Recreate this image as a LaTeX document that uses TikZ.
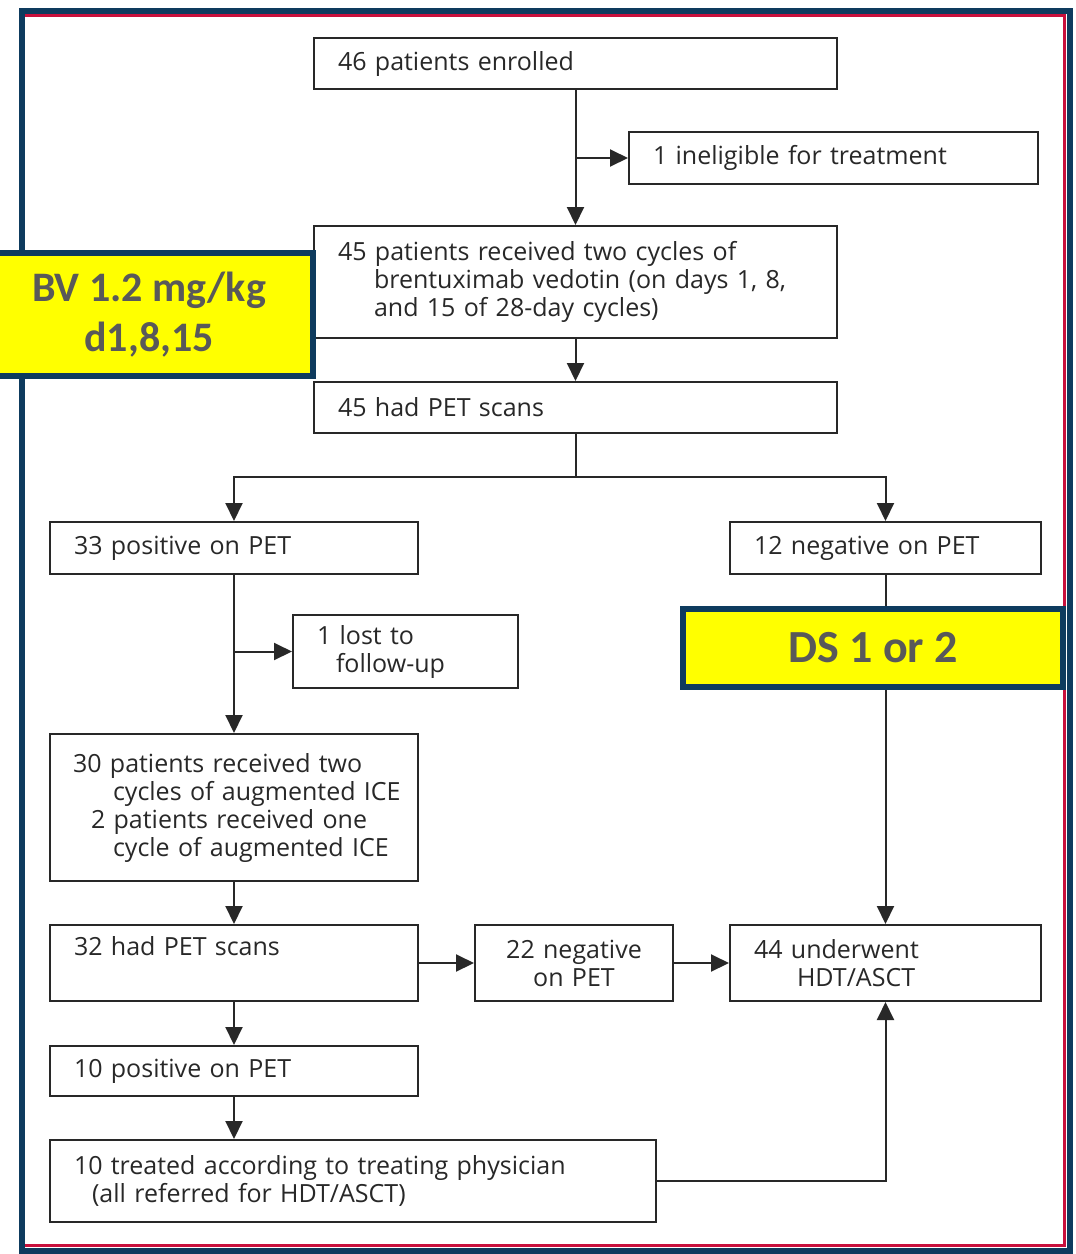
\documentclass[tikz,border=0pt]{standalone}
\usepackage{fontspec}
\newfontfamily\flowfont{Open Sans}
\newfontfamily\labelfont{Carlito}
\usetikzlibrary{arrows.meta, positioning, calc}
\definecolor{framenavy}{RGB}{14,59,94}
\definecolor{framered}{RGB}{200,16,60}
\definecolor{boxgray}{RGB}{40,40,40}
\definecolor{taggray}{RGB}{89,89,89}
\definecolor{tagyellow}{RGB}{255,255,0}
\tikzset{
    flowbox/.style={rectangle, draw=boxgray, line width=2pt, fill=white,
                    anchor=north west, align=left, inner xsep=24pt, inner ysep=0pt,
                    text=boxgray, font=\flowfont\fontsize{25}{28}\selectfont},
    arrow/.style={-{Triangle[length=18pt,width=17pt]}, line width=2pt, color=boxgray},
    link/.style={line width=2pt, color=boxgray},
    tag/.style={rectangle, draw=framenavy, line width=6pt, fill=tagyellow,
                anchor=north west, align=center, inner sep=0pt, text=taggray}
}
\begin{document}
\begin{tikzpicture}[x=1pt, y=-1pt]
    \useasboundingbox (0,0) rectangle (1076,1254);
    % frame
    \draw[framered, line width=3pt] (22,15.5) rectangle (1064.5,1245.5);
    \draw[framenavy, line width=6pt] (22,11) rectangle (1069.5,1250.5);

    % boxes
    \node[flowbox, text width=475pt, minimum height=51pt] (enrolled) at (313,37) {46 patients enrolled};
    \node[flowbox, text width=361pt, minimum height=52pt] (ineligible) at (628,131) {1 ineligible for treatment};
    \node[flowbox, text width=475pt, minimum height=112pt] (received) at (313,225) {45 patients received two cycles of\\\hspace*{36pt}brentuximab vedotin (on days 1, 8,\\\hspace*{36pt}and 15 of 28-day cycles)};
    \node[flowbox, text width=475pt, minimum height=51pt] (petscans) at (313,381) {45 had PET scans};
    \node[flowbox, text width=320pt, minimum height=52pt] (positive) at (49,521) {33 positive on PET};
    \node[flowbox, text width=263pt, minimum height=52pt] (negative) at (729,521) {12 negative on PET};
    \node[flowbox, text width=177pt, minimum height=73pt] (lost) at (292,614) {1 lost to\\\hspace*{19pt}follow-up};
    \node[flowbox, text width=352pt, inner xsep=8pt, minimum height=147pt] (ice) at (49,733) {\hspace*{15pt}30 patients received two\\\hspace*{55pt}cycles of augmented ICE\\\hspace*{33pt}2 patients received one\\\hspace*{55pt}cycle of augmented ICE};
    \node[flowbox, text width=320pt, minimum height=76pt, text depth=35pt] (petagain) at (49,924) {32 had PET scans};
    \node[flowbox, text width=150pt, minimum height=76pt, align=center] (negagain) at (474,924) {22 negative\\on PET};
    \node[flowbox, text width=263pt, minimum height=76pt] (hdt) at (729,924) {44 underwent\\\hspace*{43pt}HDT/ASCT};
    \node[flowbox, text width=320pt, minimum height=50pt] (posagain) at (49,1045) {10 positive on PET};
    \node[flowbox, text width=558pt, minimum height=82pt] (treated) at (49,1139) {10 treated according to treating physician\\\hspace*{18pt}(all referred for HDT/ASCT)};

    % connectors
    \coordinate (split) at ($(petscans.south)+(0,43)$);
    \draw[arrow] (enrolled.south) -- (received.north);
    \draw[arrow] (enrolled.south |- ineligible.west) -- (ineligible.west);
    \draw[arrow] (received.south) -- (petscans.north);
    \draw[link] (petscans.south) -- (split);
    \draw[arrow] (split) -| (positive.north);
    \draw[arrow] (split) -| (negative.north);
    \draw[arrow] (positive.south) -- (ice.north);
    \draw[arrow] (positive.south |- lost.west) -- (lost.west);
    \draw[arrow] (ice.south) -- (petagain.north);
    \draw[arrow] (petagain.east) -- (negagain.west);
    \draw[arrow] (negagain.east) -- (hdt.west);
    \draw[arrow] (petagain.south) -- (posagain.north);
    \draw[arrow] (posagain.south) -- (posagain.south |- treated.north);
    \draw[arrow] (treated.east) -| (hdt.south);
    \draw[arrow] (negative.south) -- (hdt.north);

    % highlight tags
    \node[tag, minimum width=328pt, minimum height=123pt, font=\labelfont\bfseries\fontsize{42}{50}\selectfont] (dose) at (-18,250) {BV 1.2 mg/kg\\d1,8,15};
    \node[tag, minimum width=380pt, minimum height=78pt, font=\labelfont\bfseries\fontsize{46}{50}\selectfont] (score) at (680,606) {DS 1 or 2};
\end{tikzpicture}
\end{document}
